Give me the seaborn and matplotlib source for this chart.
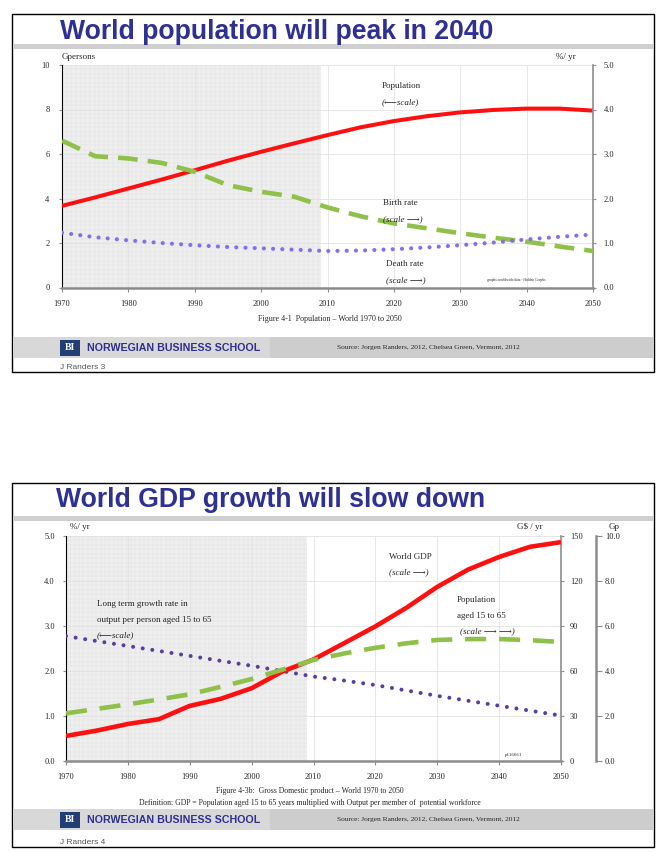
import numpy as np
import pandas as pd
import seaborn as sns
import matplotlib.pyplot as plt
from matplotlib.patches import Rectangle

W, H = 668, 852

years = list(range(1970, 2051, 5))
decades = list(range(1970, 2051, 10))
history_end = 2009

# chart 1 - population, birth rate, death rate
population = [3.67, 4.05, 4.45, 4.85, 5.27, 5.7, 6.1, 6.48, 6.85, 7.2, 7.48, 7.7, 7.87, 7.98, 8.04, 8.04, 7.95]
birth_rate = [3.3, 2.95, 2.9, 2.8, 2.6, 2.3, 2.15, 2.04, 1.8, 1.6, 1.44, 1.33, 1.22, 1.12, 1.03, 0.92, 0.82]
death_rate = [1.23, 1.13, 1.06, 1.0, 0.95, 0.91, 0.88, 0.85, 0.82, 0.83, 0.86, 0.9, 0.95, 1.01, 1.08, 1.14, 1.19]

# chart 2 - GDP, population 15-65, output growth
world_gdp = [16.4, 20, 24.4, 27.6, 36.5, 41.2, 48.3, 59.5, 67.5, 78.5, 89.6, 102, 116, 127.6, 136, 142.8, 145.9]
pop_15_65 = [2.1, 2.3, 2.5, 2.72, 2.95, 3.28, 3.63, 4.05, 4.48, 4.77, 5.02, 5.22, 5.37, 5.41, 5.41, 5.36, 5.28]
output_growth = [2.77, 2.66, 2.55, 2.44, 2.33, 2.22, 2.11, 1.99, 1.87, 1.78, 1.68, 1.56, 1.44, 1.33, 1.22, 1.11, 1.0]

pop_ticks = [0, 2, 4, 6, 8, 10]
rate_ticks = [0, 1, 2, 3, 4, 5]
gdp_ticks = [0, 30, 60, 90, 120, 150]
gp_ticks = [0, 2, 4, 6, 8, 10]

RED = '#FF1010'
GREEN = '#8FC04A'
PURPLE_LIGHT = '#8A6EE6'
PURPLE_DARK = '#5A3E98'
TITLE_BLUE = '#2E3192'
SERIF = ['Liberation Serif', 'DejaVu Serif']
SANS = ['Liberation Sans', 'DejaVu Sans']

sns.set_style('white')
plt.rcParams['font.family'] = SERIF

df1 = pd.DataFrame({'year': years, 'population': population,
                    'birth': birth_rate, 'death': death_rate})
df2 = pd.DataFrame({'year': years, 'gdp': world_gdp,
                    'pop': pop_15_65, 'growth': output_growth})

fig = plt.figure(figsize=(W / 100, H / 100), dpi=100)


def fx(x):
    return x / W


def fy(y):
    return 1 - y / H


def rect(x0, y0, x1, y1, **kw):
    fig.patches.append(Rectangle((fx(x0), fy(y1)), (x1 - x0) / W, (y1 - y0) / H,
                                 transform=fig.transFigure, **kw))


def text(x, y, s, **kw):
    kw.setdefault('size', 6.5)
    kw.setdefault('va', 'center')
    fig.text(fx(x), fy(y), s, **kw)


def slide(top, bottom, band_y, title, title_x, title_y, footer_y, page):
    rect(12, top, 654, bottom, facecolor='white', edgecolor='black', lw=1, zorder=-5)
    rect(13, band_y, 653, band_y + 5, facecolor='#CFCFCF', edgecolor='none', zorder=-4)
    text(title_x, title_y, title, family=SANS, weight='bold', size=19.2, color=TITLE_BLUE)
    rect(13, footer_y - 11, 270, footer_y + 10, facecolor='#D8D8D8', edgecolor='none', zorder=-4)
    rect(270, footer_y - 11, 653, footer_y + 10, facecolor='#CDCDCD', edgecolor='none', zorder=-4)
    rect(60, footer_y - 8, 80, footer_y + 8, facecolor='#1F3F75', edgecolor='none')
    text(70, footer_y, 'BI', color='white', weight='bold', size=7, ha='center')
    text(87, footer_y, 'NORWEGIAN BUSINESS SCHOOL', family=SANS, weight='bold',
         size=7.7, color=TITLE_BLUE)
    text(428, footer_y, 'Source: Jorgen Randers, 2012, Chelsea Green, Vermont, 2012',
         size=5.3, ha='center')
    text(60, bottom - 5, f'J Randers {page}', family=SANS, size=6, color='#555555')


def style_axes(ax, ymax, yticks, ylab_pad):
    ax.set_xlim(1970, 2050)
    ax.set_ylim(0, ymax)
    ax.set_xticks(decades)
    ax.set_yticks(yticks)
    ax.axvspan(1970, history_end, facecolor='#EFEFEF', edgecolor='none', zorder=0)
    for xv in np.arange(1970, history_end, 0.7):
        ax.axvline(xv, color='#DEDEDE', lw=0.3, zorder=0.1)
    ax.hlines(np.arange(0, ymax, ymax / 50), 1970, history_end, color='#DEDEDE', lw=0.3, zorder=0.1)
    ax.grid(True, color='#E2E2E2', lw=0.6)
    ax.set_axisbelow(True)
    for s in ['top', 'right']:
        ax.spines[s].set_visible(False)
    ax.spines['left'].set_color('black')
    ax.spines['left'].set_linewidth(0.8)
    ax.spines['bottom'].set_color('#8C8C8C')
    ax.spines['bottom'].set_linewidth(1.8)
    ax.tick_params(axis='x', direction='out', length=3, color='#8C8C8C', labelsize=6, pad=6,
                   bottom=True)
    ax.tick_params(axis='y', direction='out', length=2, color='#8C8C8C', labelsize=6,
                   pad=ylab_pad, left=True)
    ax.set_xlabel('')
    ax.set_ylabel('')


def style_right(ax, ymax, yticks, labels, pad, tick_len=2.5):
    ax.set_ylim(0, ymax)
    ax.set_yticks(yticks)
    ax.set_yticklabels(labels)
    for s in ['top', 'left', 'bottom']:
        ax.spines[s].set_visible(False)
    ax.spines['right'].set_color('#8C8C8C')
    ax.spines['right'].set_linewidth(1.2)
    ax.tick_params(axis='y', direction='out', length=tick_len, color='#8C8C8C', labelsize=6,
                   pad=pad, right=True)
    ax.grid(False)
    ax.set_ylabel('')


dash = (0, (4.3, 2.2))
dot = (0, (0.01, 2.2))

# ---------------- slide 1 ----------------
slide(14, 372, 44, 'World population will peak in 2040', 60, 32, 348, 3)

ax1 = fig.add_axes([fx(62), fy(287.5), (593 - 62) / W, (287.5 - 65) / H])
style_axes(ax1, 10, pop_ticks, 7)
ax1.set_yticklabels([str(v) for v in pop_ticks])
sns.lineplot(data=df1, x='year', y='population', ax=ax1, color=RED, lw=2.9,
             solid_capstyle='butt', zorder=3)
ax1.set_xlabel('')
ax1.set_ylabel('')

ax1r = ax1.twinx()
style_right(ax1r, 5, rate_ticks, [f'{v:.1f}' for v in rate_ticks], 5)
sns.lineplot(data=df1, x='year', y='birth', ax=ax1r, color=GREEN, lw=3.3,
             linestyle=dash, dash_capstyle='butt', zorder=3)
sns.lineplot(data=df1, x='year', y='death', ax=ax1r, color=PURPLE_LIGHT, lw=3.0,
             linestyle=dot, dash_capstyle='round', zorder=3)
ax1r.set_ylabel('')
ax1r.set_xlim(1970, 2050)

text(62, 57, 'Gpersons', size=6.5)
text(576, 57, '%/ yr', size=6.5, ha='right')
text(382, 86, 'Population')
text(382, 102.5, '(\u27F5scale)', style='italic')
text(383, 203, 'Birth rate')
text(383, 219, '(scale \u27F6)', style='italic')
text(386, 263.5, 'Death rate')
text(386, 280, '(scale \u27F6)', style='italic')
text(516, 280, 'graphs.worldwide.data - Hidden Graphs', size=2.6, ha='center')
text(330, 319, 'Figure 4-1  Population \u2013 World 1970 to 2050', size=5.8, ha='center')

# ---------------- slide 2 ----------------
slide(483, 847, 516, 'World GDP growth will slow down', 56, 500, 820, 4)

ax2 = fig.add_axes([fx(66), fy(760.5), (561 - 66) / W, (760.5 - 536) / H])
style_axes(ax2, 5, rate_ticks, 6)
ax2.set_yticklabels([f'{v:.1f}' for v in rate_ticks])
sns.lineplot(data=df2, x='year', y='growth', ax=ax2, color=PURPLE_DARK, lw=2.9,
             linestyle=(0, (0.01, 2.4)), dash_capstyle='round', zorder=3)
ax2.set_xlabel('')
ax2.set_ylabel('')

ax2r = ax2.twinx()
style_right(ax2r, 150, gdp_ticks, [str(v) for v in gdp_ticks], 4)
sns.lineplot(data=df2, x='year', y='gdp', ax=ax2r, color=RED, lw=3.3,
             solid_capstyle='butt', zorder=3)
ax2r.set_ylabel('')

ax2p = ax2.twinx()
style_right(ax2p, 10, gp_ticks, [f'{v:.1f}' for v in gp_ticks], 1.7, tick_len=4.3)
ax2p.spines['right'].set_position(('outward', 25.5))
ax2p.spines['right'].set_linewidth(1.8)
sns.lineplot(data=df2, x='year', y='pop', ax=ax2p, color=GREEN, lw=3.3,
             linestyle=(0, (4.6, 2.8)), dash_capstyle='butt', zorder=3)
ax2p.set_ylabel('')
ax2p.set_xlim(1970, 2050)

text(70, 527, '%/ yr', size=6.5)
text(543, 527, 'G$ / yr', size=6.5, ha='right')
text(614, 527, 'Gp', size=6.5, ha='center')
text(389, 557, 'World GDP')
text(389, 572.5, '(scale \u27F6)', style='italic')
text(457, 600, 'Population')
text(457, 615.5, 'aged 15 to 65')
text(460, 631, '(scale \u27F6 \u27F6)', style='italic')
text(97, 604.5, 'Long term growth rate in')
text(97, 620, 'output per person aged 15 to 65')
text(97, 635, '(\u27F5scale)', style='italic')
text(514, 755, 'p116661', size=3.5, ha='center')
text(310, 791, 'Figure 4-3b:  Gross Domestic product \u2013 World 1970 to 2050', size=5.6, ha='center')
text(310, 803, 'Definition: GDP = Population aged 15 to 65 years multiplied with Output per member of  potential workforce',
     size=5.6, ha='center')

fig.savefig('out.png', dpi=100)
